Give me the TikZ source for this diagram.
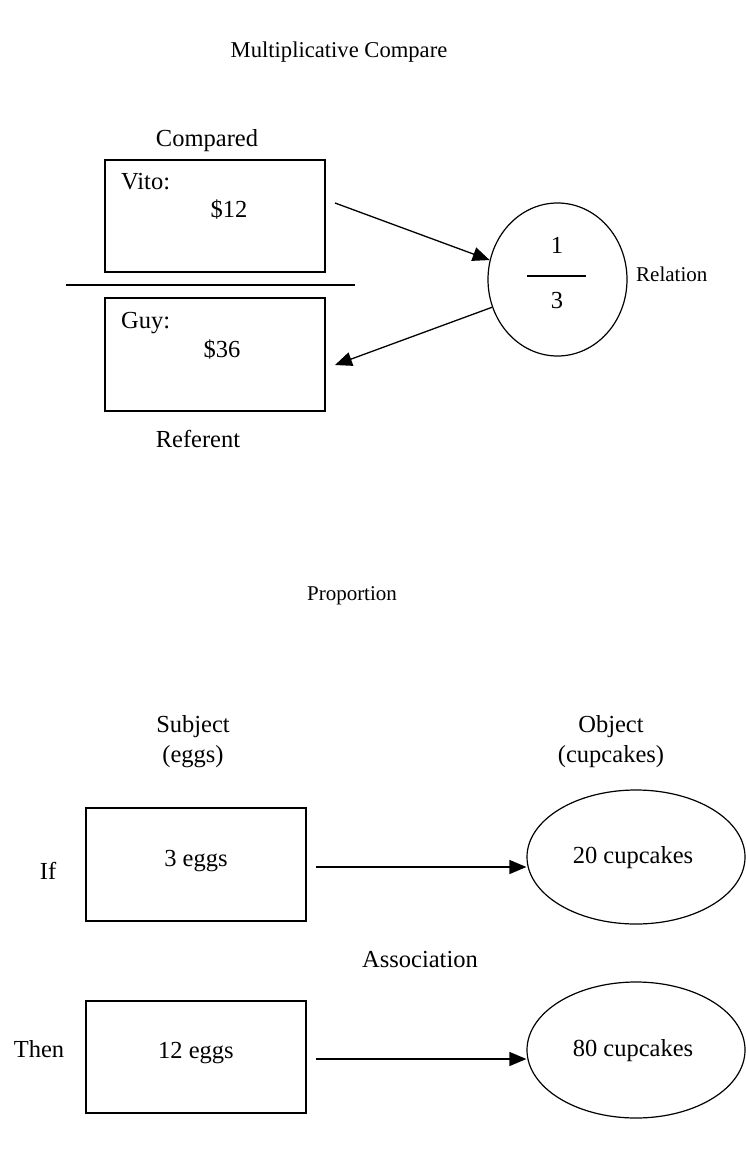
\documentclass[tikz,border=0pt]{standalone}
\usepackage{fontspec}
\setmainfont{Liberation Serif}
\usetikzlibrary{arrows.meta,shapes.geometric}
\tikzset{
  lbl/.style={inner sep=0pt, anchor=base, font=\fontsize{24.5}{29}\selectfont},
  lblw/.style={lbl, anchor=base west},
  small/.style={inner sep=0pt, anchor=base, font=\fontsize{21}{25}\selectfont},
  ttl/.style={inner sep=0pt, anchor=base, font=\fontsize{22.6}{27}\selectfont},
  box/.style={draw, line width=1.4pt, rectangle, inner sep=0pt},
  oval/.style={draw, line width=1.2pt, ellipse, inner sep=0pt},
  arr/.style={line width=1.3pt, -{Triangle[length=17pt,width=14pt]}},
  plain/.style={line width=1.3pt}
}
\begin{document}
\begin{tikzpicture}[x=1pt,y=-1pt]
\useasboundingbox (0,0) rectangle (745,1150);
% --- Multiplicative Compare ---
\node[ttl] (title) at (339,58) {Multiplicative Compare};
\node[lbl] (compared) at (207,147) {Compared};
\node[box, minimum width=220pt, minimum height=112pt] (b1) at (215,216) {};
\node[lblw] (vito) at (121,190) {Vito:};
\node[lbl] (v12) at (229,218) {\$12};
\coordinate (l1) at (66,285);
\coordinate (l2) at (355,285);
\draw[plain] (l1) -- (l2);
\node[box, minimum width=220pt, minimum height=113pt] (b2) at (215,354.5) {};
\node[lblw] (guy) at (121,328) {Guy:};
\node[lbl] (v36) at (222,357) {\$36};
\node[lbl] (referent) at (198,447) {Referent};
\node[oval, minimum width=139pt, minimum height=153pt] (rel) at (557.5,279.5) {};
\node[lbl] (one) at (557,254) {1};
\coordinate (f1) at (527,276);
\coordinate (f2) at (586,276);
\draw[plain] (f1) -- (f2);
\node[lbl] (three) at (557,308) {3};
\node[small, anchor=base west] (relation) at (636,281) {Relation};
\coordinate (a1s) at (335,203);
\coordinate (a2e) at (335,365);
\draw[arr] (a1s) -- (rel.164);
\draw[arr] (rel.203) -- (a2e);
% --- Proportion ---
\node[small] (prop) at (352,600) {Proportion};
\node[lbl] (subj) at (193,732) {Subject};
\node[lbl] (eggs) at (193,762) {(eggs)};
\node[lbl] (obj) at (611,732) {Object};
\node[lbl] (cupc) at (611,762) {(cupcakes)};
\node[box, minimum width=220pt, minimum height=113pt] (b3) at (196,864.5) {};
\node[lbl] (t3) at (196,866) {3 eggs};
\node[lbl] (if) at (48,879) {If};
\node[oval, minimum width=218pt, minimum height=134pt] (e1) at (636,857) {};
\node[lbl] (t20) at (633,863) {20 cupcakes};
\coordinate (a3s) at (316,867);
\draw[arr] (a3s) -- (a3s -| e1.west);
\node[lbl] (assoc) at (420,967) {Association};
\node[box, minimum width=220pt, minimum height=112pt] (b4) at (196,1057) {};
\node[lbl] (t12) at (196,1058) {12 eggs};
\node[lbl] (then) at (39,1057) {Then};
\node[oval, minimum width=218pt, minimum height=136pt] (e2) at (636,1050) {};
\node[lbl] (t80) at (633,1056) {80 cupcakes};
\coordinate (a4s) at (316,1059);
\draw[arr] (a4s) -- (a4s -| e2.west);
\end{tikzpicture}
\end{document}
